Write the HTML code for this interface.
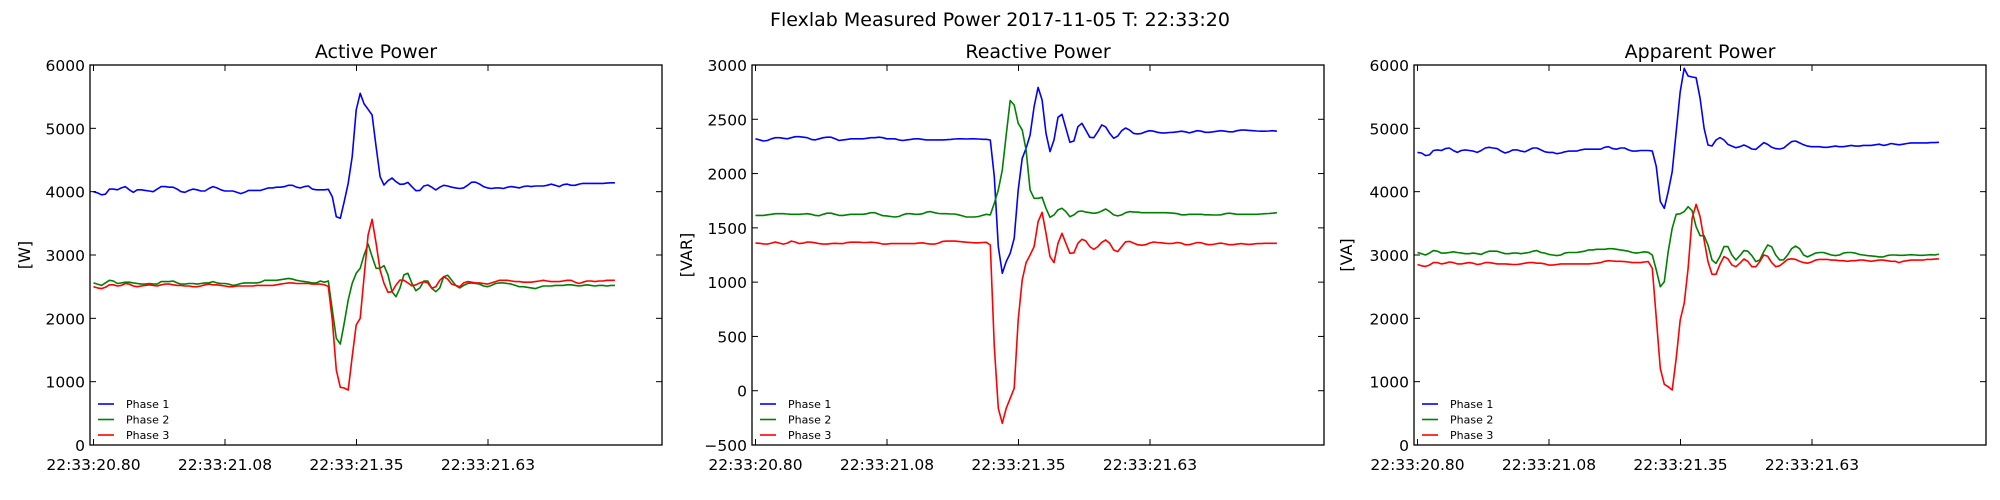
<!DOCTYPE html>
<html><head><meta charset="utf-8"><style>
html,body{margin:0;padding:0;background:#fff;}
svg{display:block;font-family:"DejaVu Sans","Liberation Sans",sans-serif;}
</style></head><body>
<svg id="fig" width="2000" height="500" viewBox="0 0 2000 500">
<text x="1000" y="26" text-anchor="middle" font-size="19">Flexlab Measured Power 2017-11-05 T: 22:33:20</text>
</svg>
<script>
const xTickLabels = ["22:33:20.80","22:33:21.08","22:33:21.35","22:33:21.63"];
const xTickIdx = [0, 33, 66, 99];
const activeTicks = [0,1000,2000,3000,4000,5000,6000];
const reactiveTicks = [-500,0,500,1000,1500,2000,2500,3000];
const apparentTicks = [0,1000,2000,3000,4000,5000,6000];
const seriesNames = ["Phase 1","Phase 2","Phase 3"];

const activeP1 = [4000,3980,3950,3960,4040,4040,4030,4060,4080,4030,3990,4030,4030,4020,4010,4000,4040,4080,4080,4070,4070,4040,4000,3990,4020,4040,4030,4010,4010,4050,4080,4060,4030,4010,4010,4010,3990,3970,3990,4020,4020,4020,4020,4040,4060,4060,4070,4070,4080,4100,4100,4070,4060,4080,4090,4040,4030,4030,4030,4037,3921,3605,3579,3842,4132,4553,5290,5553,5385,5300,5210,4710,4237,4105,4173,4216,4158,4116,4120,4147,4079,4016,4020,4090,4105,4070,4026,4070,4100,4090,4070,4060,4050,4060,4100,4150,4150,4120,4080,4060,4050,4060,4060,4050,4070,4080,4070,4060,4080,4090,4080,4090,4090,4090,4100,4120,4100,4080,4110,4120,4100,4100,4120,4130,4130,4130,4130,4130,4130,4135,4140,4140];
const activeP2 = [2560,2540,2520,2560,2600,2590,2550,2560,2570,2570,2560,2550,2540,2540,2550,2540,2540,2580,2580,2580,2590,2560,2540,2540,2550,2550,2540,2550,2560,2560,2580,2560,2550,2550,2540,2520,2530,2550,2560,2560,2560,2560,2570,2600,2600,2600,2600,2610,2620,2630,2620,2600,2590,2580,2570,2560,2560,2590,2570,2590,2132,1684,1594,1921,2290,2553,2711,2790,3000,3174,2974,2790,2790,2832,2685,2421,2342,2480,2685,2711,2553,2437,2480,2590,2590,2474,2421,2480,2658,2680,2600,2520,2480,2520,2550,2560,2550,2540,2510,2500,2520,2550,2560,2560,2550,2540,2520,2500,2500,2490,2480,2470,2490,2510,2510,2510,2520,2520,2520,2530,2530,2520,2510,2520,2530,2520,2510,2520,2520,2510,2520,2520];
const activeP3 = [2500,2480,2470,2490,2530,2530,2510,2520,2550,2540,2510,2500,2510,2520,2530,2520,2510,2530,2540,2540,2530,2520,2520,2510,2510,2500,2500,2510,2530,2540,2530,2530,2520,2510,2500,2500,2510,2510,2510,2510,2510,2520,2520,2520,2520,2520,2530,2540,2550,2560,2560,2550,2550,2550,2550,2540,2540,2540,2530,2505,1974,1184,911,900,868,1395,1895,2000,2658,3316,3563,3184,2763,2553,2411,2420,2526,2605,2600,2560,2513,2530,2560,2579,2560,2474,2500,2600,2658,2620,2540,2520,2500,2560,2580,2570,2560,2560,2550,2540,2560,2580,2600,2600,2600,2590,2580,2580,2570,2570,2570,2580,2590,2600,2590,2580,2580,2580,2590,2600,2600,2570,2550,2570,2590,2590,2580,2590,2590,2600,2600,2600];

const reactiveP1 = [2320,2310,2300,2305,2320,2330,2330,2325,2320,2330,2340,2340,2335,2330,2315,2310,2320,2330,2335,2335,2320,2305,2310,2315,2320,2320,2320,2320,2325,2330,2330,2335,2330,2320,2320,2320,2310,2305,2310,2315,2320,2320,2315,2310,2310,2310,2310,2310,2312,2315,2318,2320,2320,2318,2320,2320,2318,2316,2316,2309,1972,1327,1081,1189,1266,1404,1849,2140,2233,2355,2616,2794,2678,2371,2202,2309,2518,2546,2417,2288,2300,2432,2463,2400,2334,2330,2386,2448,2430,2370,2325,2345,2395,2420,2400,2370,2365,2370,2385,2395,2390,2380,2375,2375,2378,2380,2385,2390,2385,2375,2385,2395,2390,2380,2380,2385,2390,2395,2390,2385,2385,2395,2400,2400,2398,2395,2392,2390,2390,2392,2395,2390];
const reactiveP2 = [1615,1615,1615,1620,1625,1630,1630,1630,1628,1625,1625,1625,1628,1630,1625,1615,1612,1625,1635,1635,1625,1615,1615,1620,1625,1625,1625,1625,1630,1640,1640,1625,1612,1610,1605,1600,1605,1620,1630,1630,1625,1625,1630,1645,1650,1640,1632,1630,1630,1628,1628,1620,1610,1600,1600,1600,1605,1615,1625,1619,1726,1849,2033,2355,2672,2632,2463,2402,2217,1849,1772,1772,1781,1680,1597,1619,1665,1680,1650,1603,1619,1650,1655,1645,1640,1634,1640,1655,1674,1650,1619,1610,1619,1640,1650,1645,1645,1640,1640,1640,1640,1640,1640,1640,1638,1635,1630,1620,1620,1625,1625,1625,1625,1620,1620,1618,1618,1620,1630,1635,1630,1625,1625,1625,1625,1625,1625,1628,1630,1632,1635,1640];
const reactiveP3 = [1360,1358,1352,1350,1360,1370,1360,1350,1360,1378,1370,1355,1360,1370,1368,1362,1355,1350,1350,1355,1358,1355,1355,1365,1368,1368,1368,1365,1365,1368,1365,1360,1350,1350,1355,1355,1355,1355,1355,1355,1355,1360,1362,1355,1350,1350,1360,1375,1378,1378,1378,1375,1372,1368,1365,1362,1362,1365,1367,1342,406,-162,-300,-162,-70,22,652,1020,1180,1250,1327,1557,1643,1450,1235,1180,1358,1450,1358,1266,1270,1358,1395,1380,1327,1302,1327,1367,1388,1358,1296,1281,1327,1372,1375,1360,1345,1340,1345,1360,1370,1365,1362,1358,1355,1358,1365,1360,1345,1345,1355,1365,1362,1350,1345,1348,1355,1360,1352,1345,1345,1350,1355,1350,1348,1350,1355,1355,1358,1358,1358,1358];

const apparentP1 = [4620,4610,4570,4580,4650,4660,4650,4680,4690,4650,4620,4650,4660,4650,4640,4620,4650,4690,4700,4690,4680,4640,4610,4630,4660,4660,4640,4630,4660,4690,4690,4660,4630,4620,4620,4600,4610,4630,4640,4640,4640,4660,4670,4670,4670,4670,4670,4700,4710,4680,4670,4690,4690,4660,4640,4640,4650,4650,4650,4642,4395,3845,3737,4000,4316,4948,5579,5948,5826,5810,5800,5474,5000,4737,4721,4816,4853,4816,4747,4720,4695,4710,4737,4710,4674,4668,4721,4774,4747,4700,4680,4674,4690,4740,4790,4800,4770,4740,4720,4710,4710,4710,4700,4700,4710,4720,4710,4710,4720,4730,4720,4720,4730,4730,4730,4740,4750,4730,4740,4760,4750,4740,4750,4760,4770,4770,4770,4770,4770,4775,4775,4780];
const apparentP2 = [3040,3020,3000,3030,3070,3060,3030,3030,3040,3050,3040,3030,3020,3020,3030,3020,3010,3040,3060,3060,3060,3040,3020,3020,3030,3030,3020,3030,3040,3060,3070,3040,3030,3010,3000,2990,3000,3030,3040,3040,3040,3050,3060,3080,3080,3090,3090,3090,3100,3100,3090,3080,3070,3060,3040,3030,3040,3050,3042,3000,2763,2500,2579,3053,3421,3642,3650,3685,3763,3700,3447,3305,3305,3158,2921,2868,2980,3132,3132,3000,2921,2990,3069,3060,2990,2895,2921,3053,3158,3130,3000,2921,2925,3000,3100,3140,3100,3000,2970,3000,3030,3040,3040,3020,3000,2990,3000,3030,3040,3040,3030,3010,3000,2990,2985,2980,2970,2970,2990,3000,3000,2995,2995,3000,3005,3000,2995,2995,3000,3005,3000,3015];
const apparentP3 = [2850,2830,2820,2840,2880,2880,2860,2870,2890,2880,2860,2860,2870,2880,2870,2850,2860,2880,2880,2870,2860,2860,2860,2855,2850,2850,2860,2870,2880,2880,2870,2870,2860,2840,2840,2850,2860,2860,2860,2860,2860,2860,2860,2860,2865,2870,2880,2900,2910,2905,2900,2900,2895,2890,2880,2880,2880,2890,2895,2789,2000,1210,958,920,868,1368,1974,2237,2789,3579,3800,3605,3237,2895,2695,2695,2853,2974,2940,2842,2816,2870,2937,2900,2816,2816,2895,3000,2980,2880,2816,2830,2880,2930,2940,2930,2900,2880,2870,2890,2920,2930,2930,2930,2920,2920,2910,2910,2900,2910,2910,2920,2920,2910,2900,2910,2920,2920,2910,2900,2900,2880,2900,2910,2920,2920,2920,2920,2930,2930,2935,2940];

const NS = "http://www.w3.org/2000/svg";
const svg = document.getElementById('fig');
const colors = ["#0000ff","#008000","#ff0000"];
function mk(tag, attrs, parent){const e=document.createElementNS(NS,tag);for(const k in attrs)e.setAttribute(k,attrs[k]);(parent||svg).appendChild(e);return e;}

function drawPanel(cfg){
  const L=cfg.left, R=L+572, T=65, B=445;
  const g = mk('g',{});
  
  
  const xs = i => L + 3.5 + i*3.98;
  const ys = v => B - (v - cfg.ymin)/(cfg.ymax - cfg.ymin)*(B-T);
  const t = mk('text',{x:(L+R)/2,y:58,'text-anchor':'middle','font-size':19},g);
  t.textContent = cfg.title;
  
  
  const yl = mk('text',{x:0,y:0,'text-anchor':'middle','font-size':16,transform:`translate(${cfg.ylx},255) rotate(-90)`},g);
  yl.textContent = cfg.ylabel;
  
  
  cfg.series.forEach((arr,k)=>{
    const d = arr.map((v,i)=>(i?'L':'M')+xs(i).toFixed(1)+' '+ys(v).toFixed(1)).join(' ');
    const p = mk('path',{d:d,fill:'none',stroke:colors[k],'stroke-width':1.6,'stroke-linejoin':'round'},g);
    
    
  });
  cfg.yticks.forEach(v=>{
    const y = ys(v);
    mk('line',{x1:L,x2:L+6,y1:y,y2:y,stroke:'#000','stroke-width':1},g);
    mk('line',{x1:R-6,x2:R,y1:y,y2:y,stroke:'#000','stroke-width':1},g);
    const tx = mk('text',{x:L-5,y:y+6,'text-anchor':'end','font-size':15.5},g);
    tx.textContent = String(v).replace('-','\u2212');
    
    
  });
  xTickIdx.forEach((ix,j)=>{
    const x = xs(ix*3.98/3.98) ;
    const xx = L + 3.5 + j*131.5;
    mk('line',{x1:xx,x2:xx,y1:B,y2:B-6,stroke:'#000','stroke-width':1},g);
    mk('line',{x1:xx,x2:xx,y1:T,y2:T+6,stroke:'#000','stroke-width':1},g);
    const tx = mk('text',{x:xx,y:470,'text-anchor':'middle','font-size':15.5},g);
    tx.textContent = xTickLabels[j];
    
    
  });
  const fr = mk('rect',{x:L,y:T,width:R-L,height:B-T,fill:'none',stroke:'#000','stroke-width':1.3},g);
  
  
  seriesNames.forEach((n,k)=>{
    const y = 404 + k*15.5;
    const lg = mk('g',{},g);
    
    
    mk('line',{x1:L+8,x2:L+24,y1:y,y2:y,stroke:colors[k],'stroke-width':1.6},lg);
    const tx = mk('text',{x:L+36,y:y+4,'font-size':11},lg);
    tx.textContent = n;
  });
}
drawPanel({name:'active-power-chart',title:'Active Power',ylabel:'[W]',left:90,ylx:30,ymin:0,ymax:6000,yticks:activeTicks,series:[activeP1,activeP2,activeP3]});
drawPanel({name:'reactive-power-chart',title:'Reactive Power',ylabel:'[VAR]',left:752,ylx:692,ymin:-500,ymax:3000,yticks:reactiveTicks,series:[reactiveP1,reactiveP2,reactiveP3]});
drawPanel({name:'apparent-power-chart',title:'Apparent Power',ylabel:'[VA]',left:1414,ylx:1352,ymin:0,ymax:6000,yticks:apparentTicks,series:[apparentP1,apparentP2,apparentP3]});
</script>
</body></html>
